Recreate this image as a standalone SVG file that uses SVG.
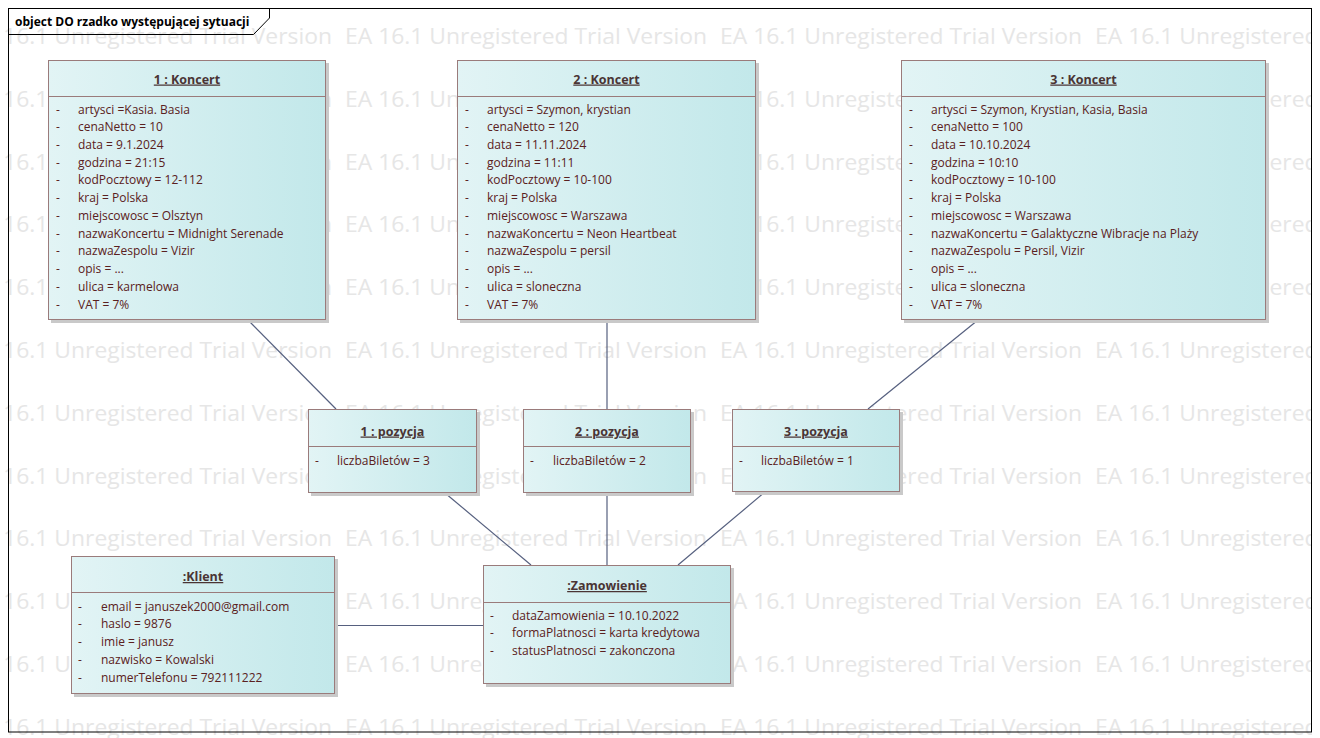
<svg xmlns="http://www.w3.org/2000/svg" xmlns:xlink="http://www.w3.org/1999/xlink" width="1320" height="738" viewBox="0 0 1320 738">
<defs>
<linearGradient id="nodeFill" x1="0" y1="0" x2="1" y2="0">
<stop offset="0" stop-color="#e2f4f5"/>
<stop offset="1" stop-color="#c2e8ea"/>
</linearGradient>
<clipPath id="wmClip"><rect x="0" y="0" width="1312" height="738"/></clipPath>
<g id="wmRow">
<text x="-30" y="0" textLength="362" lengthAdjust="spacingAndGlyphs">EA 16.1 Unregistered Trial Version</text>
<text x="345" y="0" textLength="362" lengthAdjust="spacingAndGlyphs">EA 16.1 Unregistered Trial Version</text>
<text x="720" y="0" textLength="362" lengthAdjust="spacingAndGlyphs">EA 16.1 Unregistered Trial Version</text>
<text x="1095" y="0" textLength="362" lengthAdjust="spacingAndGlyphs">EA 16.1 Unregistered Trial Version</text>
</g>
</defs>
<style>
.wm { font-family: "Open Sans", "Noto Sans", sans-serif; font-size: 22px; fill: #e6e6e6; }
.frame { fill: none; stroke: #000000; stroke-width: 1; }
.ftitle { font-family: "Open Sans", "Noto Sans", sans-serif; font-size: 12px; font-weight: bold; fill: #000000; }
.shadow { fill: #c9c9c9; }
.box { fill: url(#nodeFill); stroke: #9a7b7b; stroke-width: 1; }
.div { stroke: #9a7b7b; stroke-width: 1; }
.title { font-family: "Open Sans", "Noto Sans", sans-serif; font-size: 12.5px; font-weight: bold; fill: #4a3434; text-anchor: middle; text-decoration: underline; }
.attr { font-family: "Open Sans", "Noto Sans", sans-serif; font-size: 12px; fill: #5a2020; }
.conn { stroke: #56607f; stroke-width: 1.2; fill: none; }
</style>
<rect x="0" y="0" width="1320" height="738" fill="#ffffff"/>
<g class="wm" clip-path="url(#wmClip)">
<use xlink:href="#wmRow" y="44"/>
<use xlink:href="#wmRow" y="106.8"/>
<use xlink:href="#wmRow" y="169.6"/>
<use xlink:href="#wmRow" y="232.4"/>
<use xlink:href="#wmRow" y="295.2"/>
<use xlink:href="#wmRow" y="358"/>
<use xlink:href="#wmRow" y="420.8"/>
<use xlink:href="#wmRow" y="483.6"/>
<use xlink:href="#wmRow" y="546.4"/>
<use xlink:href="#wmRow" y="609.2"/>
<use xlink:href="#wmRow" y="672"/>
<use xlink:href="#wmRow" y="734.8"/>
</g>
<g id="frame">
<rect class="frame" x="8.5" y="8.5" width="1303" height="723.5"/>
<polyline class="frame" points="8.5,34.5 253.5,34.5 269.5,18 269.5,8.5"/>
<text class="ftitle" x="15" y="25.5">object DO rzadko występującej sytuacji</text>
</g>
<g id="connectors">
<line class="conn" x1="248" y1="320" x2="336" y2="409"/>
<line class="conn" x1="607" y1="320" x2="607" y2="409"/>
<line class="conn" x1="978" y1="320" x2="868" y2="409"/>
<line class="conn" x1="445" y1="493" x2="531" y2="565"/>
<line class="conn" x1="607" y1="493" x2="607" y2="565"/>
<line class="conn" x1="765" y1="492" x2="678" y2="565"/>
<line class="conn" x1="335" y1="625.5" x2="483" y2="625.5"/>
</g>
<g id="koncert1">
<rect class="shadow" x="51" y="63" width="278" height="260"/>
<rect class="box" x="48.5" y="60.5" width="277" height="259"/>
<line class="div" x1="48.5" y1="96.5" x2="325.5" y2="96.5"/>
<text class="title" x="187" y="83.5">1 : Koncert</text>
<g class="attr">
<text x="56" y="113.5">-</text><text x="78" y="113.5">artysci =Kasia. Basia</text>
<text x="56" y="131.2">-</text><text x="78" y="131.2">cenaNetto = 10</text>
<text x="56" y="149">-</text><text x="78" y="149">data = 9.1.2024</text>
<text x="56" y="166.7">-</text><text x="78" y="166.7">godzina = 21:15</text>
<text x="56" y="184.4">-</text><text x="78" y="184.4">kodPocztowy = 12-112</text>
<text x="56" y="202.2">-</text><text x="78" y="202.2">kraj = Polska</text>
<text x="56" y="219.9">-</text><text x="78" y="219.9">miejscowosc = Olsztyn</text>
<text x="56" y="237.6">-</text><text x="78" y="237.6">nazwaKoncertu = Midnight Serenade</text>
<text x="56" y="255.3">-</text><text x="78" y="255.3">nazwaZespolu = Vizir</text>
<text x="56" y="273.1">-</text><text x="78" y="273.1">opis = ...</text>
<text x="56" y="290.8">-</text><text x="78" y="290.8">ulica = karmelowa</text>
<text x="56" y="308.5">-</text><text x="78" y="308.5">VAT = 7%</text>
</g>
</g>
<g id="koncert2">
<rect class="shadow" x="460" y="63" width="299" height="260"/>
<rect class="box" x="457.5" y="60.5" width="298" height="259"/>
<line class="div" x1="457.5" y1="96.5" x2="755.5" y2="96.5"/>
<text class="title" x="606.5" y="83.5">2 : Koncert</text>
<g class="attr">
<text x="465" y="113.5">-</text><text x="487" y="113.5">artysci = Szymon, krystian</text>
<text x="465" y="131.2">-</text><text x="487" y="131.2">cenaNetto = 120</text>
<text x="465" y="149">-</text><text x="487" y="149">data = 11.11.2024</text>
<text x="465" y="166.7">-</text><text x="487" y="166.7">godzina = 11:11</text>
<text x="465" y="184.4">-</text><text x="487" y="184.4">kodPocztowy = 10-100</text>
<text x="465" y="202.2">-</text><text x="487" y="202.2">kraj = Polska</text>
<text x="465" y="219.9">-</text><text x="487" y="219.9">miejscowosc = Warszawa</text>
<text x="465" y="237.6">-</text><text x="487" y="237.6">nazwaKoncertu = Neon Heartbeat</text>
<text x="465" y="255.3">-</text><text x="487" y="255.3">nazwaZespolu = persil</text>
<text x="465" y="273.1">-</text><text x="487" y="273.1">opis = ...</text>
<text x="465" y="290.8">-</text><text x="487" y="290.8">ulica = sloneczna</text>
<text x="465" y="308.5">-</text><text x="487" y="308.5">VAT = 7%</text>
</g>
</g>
<g id="koncert3">
<rect class="shadow" x="904" y="63" width="365" height="260"/>
<rect class="box" x="901.5" y="60.5" width="364" height="259"/>
<line class="div" x1="901.5" y1="96.5" x2="1265.5" y2="96.5"/>
<text class="title" x="1083.5" y="83.5">3 : Koncert</text>
<g class="attr">
<text x="909" y="113.5">-</text><text x="931" y="113.5">artysci = Szymon, Krystian, Kasia, Basia</text>
<text x="909" y="131.2">-</text><text x="931" y="131.2">cenaNetto = 100</text>
<text x="909" y="149">-</text><text x="931" y="149">data = 10.10.2024</text>
<text x="909" y="166.7">-</text><text x="931" y="166.7">godzina = 10:10</text>
<text x="909" y="184.4">-</text><text x="931" y="184.4">kodPocztowy = 10-100</text>
<text x="909" y="202.2">-</text><text x="931" y="202.2">kraj = Polska</text>
<text x="909" y="219.9">-</text><text x="931" y="219.9">miejscowosc = Warszawa</text>
<text x="909" y="237.6">-</text><text x="931" y="237.6">nazwaKoncertu = Galaktyczne Wibracje na Plaży</text>
<text x="909" y="255.3">-</text><text x="931" y="255.3">nazwaZespolu = Persil, Vizir</text>
<text x="909" y="273.1">-</text><text x="931" y="273.1">opis = ...</text>
<text x="909" y="290.8">-</text><text x="931" y="290.8">ulica = sloneczna</text>
<text x="909" y="308.5">-</text><text x="931" y="308.5">VAT = 7%</text>
</g>
</g>
<g id="pozycja1">
<rect class="shadow" x="311" y="412" width="169" height="84"/>
<rect class="box" x="308.5" y="409.5" width="168" height="83"/>
<line class="div" x1="308.5" y1="446.5" x2="476.5" y2="446.5"/>
<text class="title" x="392.5" y="435.5">1 : pozycja</text>
<g class="attr"><text x="315" y="464.5">-</text><text x="337" y="464.5">liczbaBiletów = 3</text></g>
</g>
<g id="pozycja2">
<rect class="shadow" x="526" y="412" width="168" height="84"/>
<rect class="box" x="523.5" y="409.5" width="167" height="83"/>
<line class="div" x1="523.5" y1="446.5" x2="690.5" y2="446.5"/>
<text class="title" x="607" y="435.5">2 : pozycja</text>
<g class="attr"><text x="530" y="464.5">-</text><text x="553" y="464.5">liczbaBiletów = 2</text></g>
</g>
<g id="pozycja3">
<rect class="shadow" x="735" y="412" width="168" height="83"/>
<rect class="box" x="732.5" y="409.5" width="167" height="82"/>
<line class="div" x1="732.5" y1="446.5" x2="899.5" y2="446.5"/>
<text class="title" x="816" y="435.5">3 : pozycja</text>
<g class="attr"><text x="739" y="464.5">-</text><text x="761" y="464.5">liczbaBiletów = 1</text></g>
</g>
<g id="klient">
<rect class="shadow" x="74" y="559" width="264" height="138"/>
<rect class="box" x="71.5" y="556.5" width="263" height="137"/>
<line class="div" x1="71.5" y1="592.5" x2="334.5" y2="592.5"/>
<text class="title" x="203" y="581">:Klient</text>
<g class="attr">
<text x="78" y="610.5">-</text><text x="101" y="610.5">email = januszek2000@gmail.com</text>
<text x="78" y="628.3">-</text><text x="101" y="628.3">haslo = 9876</text>
<text x="78" y="646">-</text><text x="101" y="646">imie = janusz</text>
<text x="78" y="663.8">-</text><text x="101" y="663.8">nazwisko = Kowalski</text>
<text x="78" y="681.5">-</text><text x="101" y="681.5">numerTelefonu = 792111222</text>
</g>
</g>
<g id="zamowienie">
<rect class="shadow" x="486" y="568" width="248" height="119"/>
<rect class="box" x="483.5" y="565.5" width="247" height="118"/>
<line class="div" x1="483.5" y1="602.5" x2="730.5" y2="602.5"/>
<text class="title" x="607" y="590">:Zamowienie</text>
<g class="attr">
<text x="490" y="619.5">-</text><text x="512" y="619.5">dataZamowienia = 10.10.2022</text>
<text x="490" y="637.3">-</text><text x="512" y="637.3">formaPlatnosci = karta kredytowa</text>
<text x="490" y="655">-</text><text x="512" y="655">statusPlatnosci = zakonczona</text>
</g>
</g>
</svg>
